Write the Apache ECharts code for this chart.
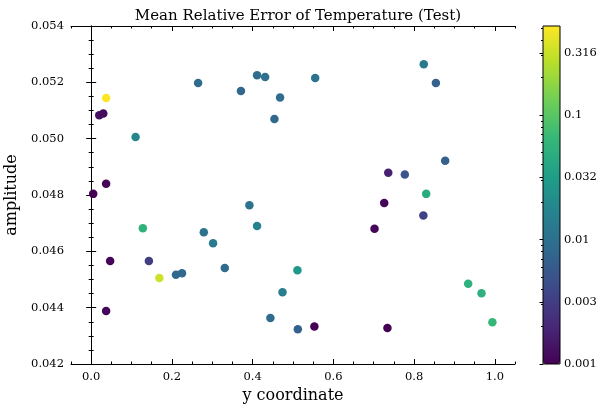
<!DOCTYPE html>
<html><head><meta charset="utf-8">
<script src="https://cdn.jsdelivr.net/npm/echarts@6/dist/echarts.min.js"></script>
<style>html,body{margin:0;padding:0;background:#fff}#c{width:602px;height:405px}</style>
</head><body><div id="c"></div>
<script>
// ---- data ----
const yCoord = [0.005,0.037,0.020,0.030,0.037,0.110,0.265,0.371,0.411,0.431,0.468,0.454,0.555,0.824,0.854,0.877,0.736,0.777,0.830,0.128,0.047,0.143,0.169,0.210,0.225,0.279,0.302,0.331,0.392,0.411,0.444,0.474,0.511,0.512,0.553,0.726,0.702,0.823,0.734,0.934,0.967,0.994,0.037];
const amplitude = [0.04804,0.04840,0.05083,0.05089,0.05144,0.05006,0.05198,0.05169,0.05225,0.05219,0.05146,0.05070,0.05215,0.05264,0.05198,0.04922,0.04879,0.04873,0.04804,0.04682,0.04566,0.04566,0.04505,0.04517,0.04522,0.04668,0.04629,0.04541,0.04764,0.04690,0.04363,0.04455,0.04533,0.04323,0.04333,0.04772,0.04680,0.04727,0.04328,0.04485,0.04451,0.04348,0.04388];
const relError = [0.001,0.0011,0.0013,0.0012,0.52,0.018,0.009,0.008,0.009,0.010,0.009,0.008,0.011,0.013,0.007,0.007,0.0018,0.005,0.047,0.056,0.0011,0.0032,0.33,0.008,0.008,0.011,0.013,0.009,0.011,0.016,0.009,0.015,0.028,0.007,0.001,0.0011,0.0011,0.0035,0.001,0.053,0.053,0.064,0.0011];
const xMajorTicks = [0.0,0.2,0.4,0.6,0.8,1.0];
const xMinorTicks = [-0.05,0.05,0.1,0.15,0.25,0.3,0.35,0.45,0.5,0.55,0.65,0.7,0.75,0.85,0.9,0.95,1.05];
const cbTickValues = [0.001,0.00316,0.01,0.0316,0.1,0.316];
const cbTickLabels = ['0.001','0.003','0.01','0.032','0.1','0.316'];
const cbMinorValues = [0.002,0.003,0.004,0.005,0.006,0.007,0.008,0.009,0.02,0.03,0.04,0.05,0.06,0.07,0.08,0.09,0.2,0.3,0.4,0.5];
const viridis = ['#440154','#482878','#3e4989','#31688e','#26828e','#1f9e89','#35b779','#6ece58','#b5de2b','#fde725'];

const vmin = Math.min(...relError), vmax = Math.max(...relError);
const lmin = Math.log10(vmin), lmax = Math.log10(vmax);
const pts = yCoord.map((x, i) => [x, amplitude[i], Math.log10(relError[i])]);

const FONT = 'DejaVu Serif';
const black = '#000';
const lab = {fontFamily: FONT, fontSize: 11.5, color: black};
const G = {left: 71, top: 26, width: 444, height: 338, outerBoundsMode: 'none', containLabel: false};
const CB = {left: 543, top: 26, width: 17, height: 338, outerBoundsMode: 'none', containLabel: false};

const chart = echarts.init(document.getElementById('c'), null, {renderer: 'canvas'});
const lineStyle = {color: black, width: 1};
chart.setOption({
  animation: false,
  backgroundColor: '#fff',
  title: {text: 'Mean Relative Error of Temperature (Test)', left: 293, top: 4, textAlign: 'center',
    textStyle: {fontFamily: FONT, fontSize: 15, fontWeight: 'normal', color: black}},
  grid: [
    Object.assign({}, G),
    Object.assign({show: true, borderColor: black, borderWidth: 1, backgroundColor: 'transparent', z: 10}, CB),
    Object.assign({}, G),
    Object.assign({}, CB)
  ],
  xAxis: [
    {gridIndex: 0, type: 'value', position: 'bottom', min: -0.05, max: 1.05,
      axisLine: {show: true, lineStyle}, splitLine: {show: false},
      axisTick: {show: true, inside: true, length: 5, customValues: xMajorTicks, lineStyle},
      axisLabel: {customValues: xMajorTicks, formatter: v => v.toFixed(1), margin: 7, ...lab},
      name: 'y coordinate', nameLocation: 'middle', nameGap: 23,
      nameTextStyle: {fontFamily: FONT, fontSize: 16, color: black}},
    {gridIndex: 0, type: 'value', position: 'top', min: -0.05, max: 1.05,
      axisLine: {show: true, lineStyle}, splitLine: {show: false},
      axisTick: {show: true, inside: true, length: 5, customValues: xMajorTicks, lineStyle},
      axisLabel: {show: false}},
    {gridIndex: 1, type: 'value', show: false, min: 0, max: 1},
    {gridIndex: 2, type: 'value', position: 'bottom', min: -0.05, max: 1.05,
      axisLine: {show: false}, splitLine: {show: false},
      axisTick: {show: true, inside: true, length: 2.5, customValues: xMinorTicks, lineStyle},
      axisLabel: {show: false}},
    {gridIndex: 2, type: 'value', position: 'top', min: -0.05, max: 1.05,
      axisLine: {show: false}, splitLine: {show: false},
      axisTick: {show: true, inside: true, length: 2.5, customValues: xMinorTicks, lineStyle},
      axisLabel: {show: false}},
    {gridIndex: 3, type: 'value', show: false, min: 0, max: 1}
  ],
  yAxis: [
    {gridIndex: 0, type: 'value', position: 'left', min: 0.042, max: 0.054, interval: 0.002,
      axisLine: {show: true, lineStyle}, splitLine: {show: false},
      axisTick: {show: true, inside: true, length: 5, lineStyle},
      minorTick: {show: true, splitNumber: 4, length: 2.5, lineStyle},
      axisLabel: {formatter: v => v.toFixed(3), margin: 7, ...lab},
      name: 'amplitude', nameLocation: 'middle', nameGap: 41, nameRotate: 90,
      nameTextStyle: {fontFamily: FONT, fontSize: 16, color: black}},
    {gridIndex: 0, type: 'value', position: 'right', min: 0.042, max: 0.054, interval: 0.002,
      axisLine: {show: true, lineStyle}, splitLine: {show: false},
      axisTick: {show: true, inside: true, length: 5, lineStyle},
      minorTick: {show: true, splitNumber: 4, length: 2.5, lineStyle},
      axisLabel: {show: false}},
    {gridIndex: 1, type: 'value', position: 'right', min: lmin, max: lmax, z: 10,
      axisLine: {show: false}, splitLine: {show: false},
      axisTick: {show: true, inside: true, length: 3.5, customValues: cbTickValues.map(Math.log10), lineStyle},
      axisLabel: {customValues: cbTickValues.map(Math.log10), margin: 4, ...lab,
        formatter: v => { let best = 0; cbTickValues.forEach((t, i) => { if (Math.abs(Math.log10(t) - v) < Math.abs(Math.log10(cbTickValues[best]) - v)) best = i; }); return cbTickLabels[best]; }}},
    {gridIndex: 2, type: 'value', show: false, min: 0.042, max: 0.054},
    {gridIndex: 3, type: 'value', position: 'right', min: lmin, max: lmax, z: 10,
      axisLine: {show: false}, splitLine: {show: false},
      axisTick: {show: true, inside: true, length: 2, customValues: cbMinorValues.map(Math.log10), lineStyle},
      axisLabel: {show: false}}
  ],
  visualMap: {
    type: 'continuous', seriesIndex: 0, dimension: 2, min: lmin, max: lmax,
    inRange: {color: viridis}, orient: 'vertical', left: CB.left, top: CB.top,
    itemWidth: CB.width, itemHeight: CB.height, padding: 0, calculable: false,
    showLabel: false, text: null, hoverLink: false, realtime: false,
    textStyle: {fontSize: 0}
  },
  series: [{
    type: 'scatter', xAxisIndex: 0, yAxisIndex: 0, data: pts, symbolSize: 8.5,
    itemStyle: {opacity: 1}, emphasis: {disabled: true}
  }]
});
</script>
</body></html>
